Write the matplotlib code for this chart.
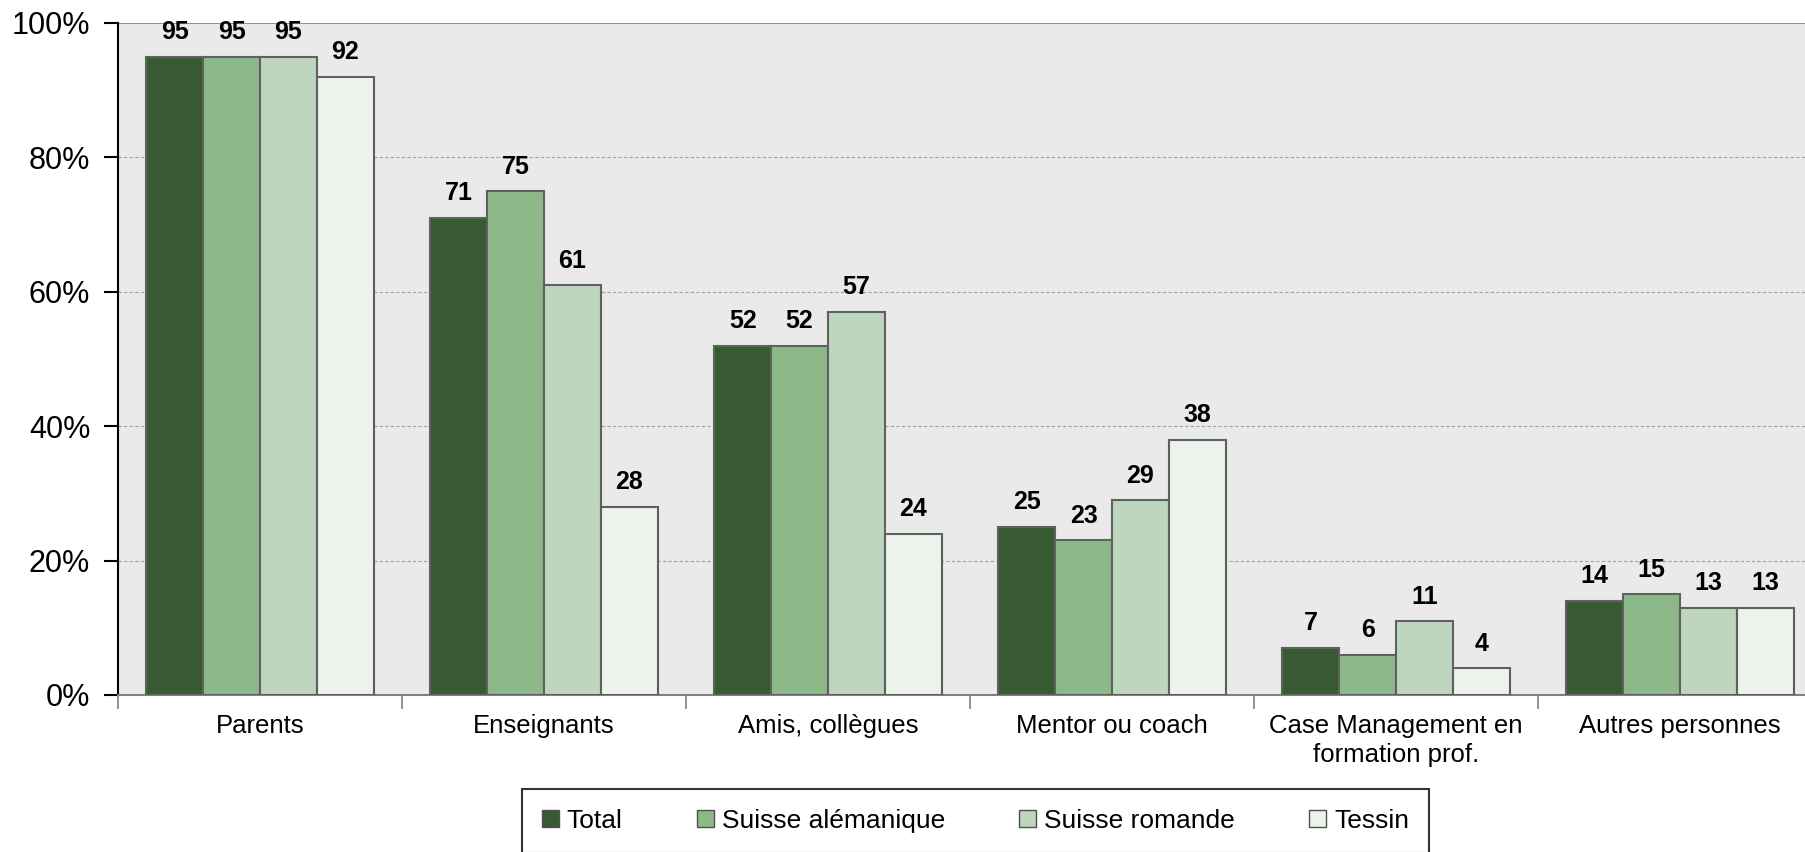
import numpy as np
import matplotlib
matplotlib.use('Agg')
from matplotlib import pyplot as plt
from matplotlib.patches import Patch

plt.rcParams['font.family'] = ['Liberation Sans', 'DejaVu Sans']

categories = ['Parents', 'Enseignants', 'Amis, collègues', 'Mentor ou coach',
              'Case Management en\nformation prof.', 'Autres personnes']
series = ['Total', 'Suisse alémanique', 'Suisse romande', 'Tessin']
total = [95, 71, 52, 25, 7, 14]
alemanique = [95, 75, 52, 23, 6, 15]
romande = [95, 61, 57, 29, 11, 13]
tessin = [92, 28, 24, 38, 4, 13]
yticks = [0, 20, 40, 60, 80, 100]

colors = ['#385a33', '#8db888', '#bed6be', '#ebf3eb']
values = [total, alemanique, romande, tessin]

fig = plt.figure(figsize=(18.06, 8.52), dpi=100)
ax = fig.add_axes([118/1806, 1 - 695/852, 1704/1806, 672/852])
ax.set_facecolor('#eaeaea')

x = np.arange(len(categories))
w = 0.2
for i, (vals, c) in enumerate(zip(values, colors)):
    pos = x - 0.3 + i * w
    ax.bar(pos, vals, width=w, color=c, edgecolor='#606060', linewidth=1.5, zorder=3)
    for xp, v in zip(pos, vals):
        ax.annotate(str(v), (xp, v), xytext=(0, 9), textcoords='offset points',
                    ha='center', va='bottom', fontsize=18, fontweight='bold', zorder=4)

ax.set_xlim(-0.5, len(categories) - 0.5)
ax.set_ylim(0, 100)
ax.set_yticks(yticks)
ax.set_yticklabels([f'{t}%' for t in yticks], fontsize=22)
for t in yticks[1:-1]:
    ax.axhline(t, color='#a0a0a0', linestyle=(0, (3, 2)), linewidth=0.8, zorder=1)
ax.axhline(100, color='#808080', linewidth=1.2, zorder=1)

# category labels, ticks sit at group boundaries
ax.set_xticks(x)
ax.set_xticklabels(categories, fontsize=18.5, linespacing=1.25)
ax.tick_params(axis='x', length=0, pad=14)
ax.set_xticks(np.arange(len(categories) + 1) - 0.5, minor=True)
ax.tick_params(axis='x', which='minor', length=10, width=1.2, color='#808080', direction='out')
ax.tick_params(axis='y', length=10, width=1.5, color='black', direction='out', pad=10)

for s in ['top', 'right']:
    ax.spines[s].set_visible(False)
ax.spines['left'].set_color('black')
ax.spines['left'].set_linewidth(1.5)
ax.spines['bottom'].set_color('#808080')
ax.spines['bottom'].set_linewidth(1.5)

handles = [Patch(facecolor=c, edgecolor='#505050', label=s) for c, s in zip(colors, series)]
leg = fig.legend(handles=handles, loc='upper left', bbox_to_anchor=(522/1806, 1 - 789/852, 907/1806, 0),
                 mode='expand', ncol=4, fontsize=19, frameon=True, fancybox=False,
                 edgecolor='black', handlelength=0.65, handleheight=0.65, handletextpad=0.3,
                 borderaxespad=0, borderpad=0.75, columnspacing=2.6)
leg.get_frame().set_linewidth(1.5)

fig.savefig('out.png', dpi=100)
